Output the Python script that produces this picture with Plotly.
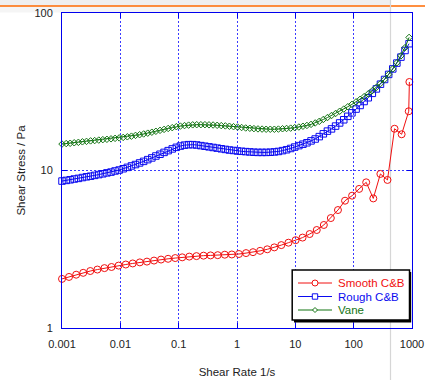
import plotly.graph_objects as go

# ---------------- data ----------------
rate_dense = [0.001, 0.00118, 0.00138, 0.00162, 0.00191, 0.00224, 0.00263, 0.00309, 0.00363, 0.00427,
              0.00501, 0.00589, 0.00692, 0.00813, 0.00955, 0.0112, 0.0132, 0.0155, 0.0182, 0.0214,
              0.0251, 0.0295, 0.0347, 0.0407, 0.0479, 0.0562, 0.0661, 0.0776, 0.0912, 0.107,
              0.126, 0.148, 0.174, 0.204, 0.240, 0.282, 0.331, 0.389, 0.457, 0.537,
              0.631, 0.741, 0.871, 1.02, 1.20, 1.41, 1.66, 1.95, 2.29, 2.69,
              3.16, 3.72, 4.37, 5.13, 6.03, 7.08, 8.32, 9.77, 11.5, 13.5,
              15.8, 18.6, 21.9, 25.7, 30.2, 35.5, 41.7, 49.0, 57.5, 67.6,
              79.4, 93.3, 110, 129, 151, 178, 209, 245, 288, 339,
              398, 468, 550, 646, 759, 891]

stress_rough = [8.57, 8.65, 8.73, 8.83, 8.91, 9.02, 9.12, 9.20, 9.31, 9.42,
                9.53, 9.66, 9.77, 9.93, 10.07, 10.26, 10.47, 10.69, 10.91, 11.17,
                11.43, 11.72, 12.02, 12.36, 12.68, 13.03, 13.37, 13.71, 14.03, 14.29,
                14.49, 14.59, 14.59, 14.52, 14.39, 14.26, 14.13, 14.00, 13.87, 13.74,
                13.61, 13.49, 13.40, 13.30, 13.24, 13.18, 13.12, 13.06, 13.03, 13.03,
                13.03, 13.06, 13.12, 13.21, 13.37, 13.55, 13.80, 14.09, 14.39, 14.69,
                15.00, 15.42, 15.85, 16.41, 17.10, 17.78, 18.37, 19.14, 20.04, 20.99,
                22.08, 23.23, 24.55, 25.88, 27.42, 28.97, 30.90, 32.96, 35.32, 37.84,
                40.74, 44.16, 48.08, 52.48, 57.81, 63.83]

stress_vane = [14.72, 14.83, 14.89, 15.00, 15.10, 15.21, 15.31, 15.42, 15.49, 15.60,
               15.70, 15.78, 15.89, 16.00, 16.11, 16.22, 16.37, 16.52, 16.71, 16.87,
               17.06, 17.26, 17.50, 17.74, 17.99, 18.24, 18.49, 18.71, 18.97, 19.14,
               19.28, 19.41, 19.50, 19.54, 19.54, 19.54, 19.50, 19.45, 19.36, 19.28,
               19.19, 19.10, 18.97, 18.88, 18.75, 18.62, 18.54, 18.45, 18.37, 18.32,
               18.28, 18.28, 18.28, 18.32, 18.41, 18.49, 18.58, 18.71, 18.88, 19.10,
               19.32, 19.63, 20.04, 20.51, 21.09, 21.68, 22.34, 23.01, 23.77, 24.55,
               25.41, 26.30, 27.29, 28.31, 29.44, 30.69, 32.14, 33.73, 35.65, 37.84,
               40.74, 44.16, 48.31, 53.46, 60.26, 69.98]

rate_smooth = [0.001, 0.00132, 0.00175, 0.00231, 0.00305, 0.00404, 0.00534, 0.00706, 0.00933, 0.0124,
               0.0163, 0.0216, 0.0286, 0.0378, 0.0499, 0.0659, 0.0873, 0.115, 0.152, 0.202,
               0.267, 0.352, 0.467, 0.617, 0.815, 1.08, 1.43, 1.88, 2.49, 3.30,
               4.36, 5.75, 7.62, 10.1, 13.3, 17.6, 23.3, 30.8, 40.6, 53.8,
               71.1, 94.0, 124, 164, 217, 287, 380, 502, 664, 879, 902]

stress_smooth = [2.05, 2.11, 2.18, 2.24, 2.30, 2.35, 2.40, 2.44, 2.49, 2.53,
                 2.57, 2.61, 2.64, 2.68, 2.72, 2.75, 2.78, 2.81, 2.84, 2.86,
                 2.88, 2.89, 2.90, 2.92, 2.93, 2.95, 2.99, 3.03, 3.09, 3.16,
                 3.25, 3.36, 3.48, 3.61, 3.75, 3.95, 4.19, 4.51, 4.99, 5.61,
                 6.43, 6.92, 7.64, 8.41, 6.65, 9.51, 8.71, 18.41, 16.98, 23.77, 36.48]

series_names = ["Smooth C&B", "Rough C&B", "Vane"]
x_tick_vals = [0.001, 0.01, 0.1, 1, 10, 100, 1000]
x_tick_text = ["0.001", "0.01", "0.1", "1", "10", "100", "1000"]
y_tick_vals = [1, 10, 100]
y_tick_text = ["1", "10", "100"]

RED = "#f01010"
BLUE = "#0a0af0"
GREEN = "#137413"
AXIS_BLUE = "#0000ee"
FONT = "Liberation Sans, Arial, sans-serif"

W, H = 425, 380
L, R, T, B = 62, 412, 13, 328


def px(x):
    return (x - L) / (R - L)


def py(y):
    return (B - y) / (B - T)


fig = go.Figure()
fig.add_trace(go.Scatter(x=rate_smooth, y=stress_smooth, mode="lines+markers", name=series_names[0],
                         line=dict(color=RED, width=1),
                         marker=dict(symbol="circle-open", size=7, color=RED, line=dict(width=1)),
                         cliponaxis=False, showlegend=False))
fig.add_trace(go.Scatter(x=rate_dense, y=stress_rough, mode="lines+markers", name=series_names[1],
                         line=dict(color=BLUE, width=1),
                         marker=dict(symbol="square-open", size=6.5, color=BLUE, line=dict(width=1)),
                         cliponaxis=False, showlegend=False))
fig.add_trace(go.Scatter(x=rate_dense, y=stress_vane, mode="lines+markers", name=series_names[2],
                         line=dict(color=GREEN, width=1),
                         marker=dict(symbol="diamond-open", size=5, color=GREEN, line=dict(width=1)),
                         cliponaxis=False, showlegend=False))

shapes = []
# page background pieces (slide frame)
shapes.append(dict(type="rect", xref="paper", yref="paper", x0=px(0), x1=px(390), y0=py(0), y1=py(6),
                   fillcolor="#efefef", line=dict(width=0), layer="below"))
shapes.append(dict(type="rect", xref="paper", yref="paper", x0=px(0), x1=px(390), y0=py(6), y1=py(12.5),
                   fillcolor="#f5f5f5", line=dict(width=0), layer="below"))
shapes.append(dict(type="line", xref="paper", yref="paper", x0=px(0), x1=px(425), y0=py(6), y1=py(6),
                   line=dict(color="#ff6a00", width=1.5), layer="below"))
shapes.append(dict(type="line", xref="paper", yref="paper", x0=px(390.5), x1=px(390.5), y0=py(0), y1=py(380),
                   line=dict(color="#d6d6d6", width=1.2), layer="below"))

# legend box with drop shadow
shapes.append(dict(type="rect", xref="paper", yref="paper", x0=px(294), x1=px(411.2), y0=py(272), y1=py(322.5),
                   fillcolor="black", line=dict(width=0), layer="above"))
shapes.append(dict(type="rect", xref="paper", yref="paper", x0=px(292.2), x1=px(409.5), y0=py(270), y1=py(320),
                   fillcolor="white", line=dict(color="black", width=1.5), layer="above"))
leg_y = [283, 296.5, 310]
leg_col = [RED, BLUE, GREEN]
for yy, col in zip(leg_y, leg_col):
    shapes.append(dict(type="line", xref="paper", yref="paper", x0=px(298), x1=px(332), y0=py(yy), y1=py(yy),
                       line=dict(color=col, width=1), layer="above"))
shapes.append(dict(type="circle", xref="paper", yref="paper", x0=px(312), x1=px(318), y0=py(leg_y[0] - 3),
                   y1=py(leg_y[0] + 3), fillcolor="white", line=dict(color=RED, width=1), layer="above"))
shapes.append(dict(type="rect", xref="paper", yref="paper", x0=px(312.3), x1=px(317.7), y0=py(leg_y[1] - 2.7),
                   y1=py(leg_y[1] + 2.7), fillcolor="white", line=dict(color=BLUE, width=1), layer="above"))
dx, dy = 2.5, 2.5
path = "M {a},{b} L {c},{d} L {e},{f} L {g},{h} Z".format(
    a=px(315), b=py(leg_y[2] - dy), c=px(315 + dx), d=py(leg_y[2]),
    e=px(315), f=py(leg_y[2] + dy), g=px(315 - dx), h=py(leg_y[2]))
shapes.append(dict(type="path", xref="paper", yref="paper", path=path, fillcolor="white",
                   line=dict(color=GREEN, width=1), layer="above"))

annotations = []
for yy, col, nm in zip(leg_y, leg_col, series_names):
    annotations.append(dict(xref="paper", yref="paper", x=px(336), y=py(yy), text=nm, showarrow=False,
                            xanchor="left", yanchor="middle", font=dict(family=FONT, size=11.5, color=col)))

axis_common = dict(showline=True, linecolor=AXIS_BLUE, linewidth=1, mirror="ticks",
                   ticks="inside", ticklen=5, tickcolor=AXIS_BLUE, tickwidth=1,
                   showgrid=True, gridcolor="#3a3aff", gridwidth=1, griddash="2px,2px",
                   zeroline=False, tickfont=dict(family=FONT, size=11, color="#222222"))

fig.update_layout(
    width=W, height=H,
    margin=dict(l=L, r=W - R, t=T, b=H - B, pad=0),
    paper_bgcolor="white", plot_bgcolor="rgba(0,0,0,0)",
    showlegend=False,
    xaxis=dict(type="log", range=[-3, 3], tickvals=x_tick_vals, ticktext=x_tick_text,
               ticklabelstandoff=6,
               title=dict(text="Shear Rate 1/s", font=dict(family=FONT, size=11.5, color="#222222"), standoff=18),
               **axis_common),
    yaxis=dict(type="log", range=[0, 2], tickvals=y_tick_vals, ticktext=y_tick_text,
               ticklabelstandoff=6,
               title=dict(text="Shear Stress / Pa", font=dict(family=FONT, size=11.5, color="#222222"), standoff=6),
               **axis_common),
    shapes=shapes, annotations=annotations,
)
fig.update_xaxes(automargin=False)
fig.update_yaxes(automargin=False)

fig.write_html("out.html")
